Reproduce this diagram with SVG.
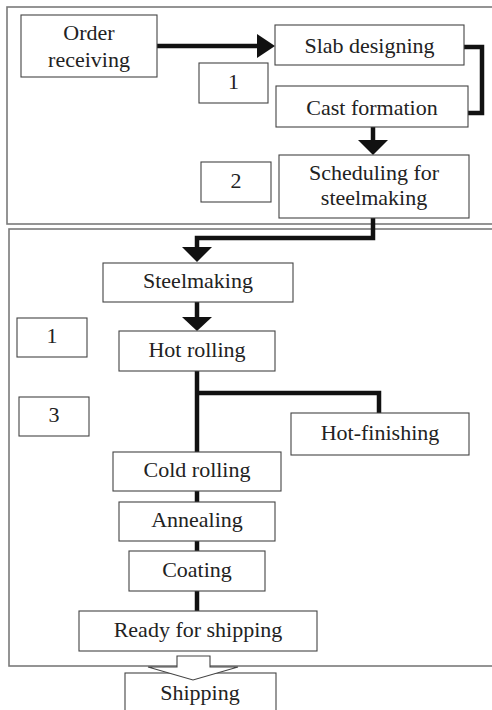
<svg xmlns="http://www.w3.org/2000/svg" width="492" height="710" viewBox="0 0 492 710">
<style>
.frame{fill:none;stroke:#7a7a7a;stroke-width:1.6}
.box{fill:#fff;stroke:#444;stroke-width:1.1}
.t{font-family:"Liberation Serif","Times New Roman",serif;font-size:22px;fill:#222;text-anchor:middle}
.c{fill:none;stroke:#111;stroke-width:4.5}
.ah{fill:#111;stroke:none}
</style>
<rect class="frame" x="7" y="7" width="495" height="217"/>
<rect class="frame" x="9" y="229" width="495" height="437"/>
<g id="connectors">
<line class="c" x1="157" y1="46" x2="259" y2="46"/>
<polygon class="ah" points="257,34 275,46 257,58"/>
<path class="c" d="M464,47 H482 V113 H468"/>
<line class="c" x1="373" y1="127" x2="373" y2="142"/>
<polygon class="ah" points="358,140 388,140 373,155"/>
<path class="c" d="M373,218 V238 H197 V249"/>
<polygon class="ah" points="182,247 212,247 197,262"/>
<line class="c" x1="197" y1="302" x2="197" y2="319"/>
<polygon class="ah" points="182,317 212,317 197,331"/>
<line class="c" x1="197" y1="371" x2="197" y2="452"/>
<path class="c" d="M197,393 H379 V413"/>
<line class="c" x1="197" y1="491" x2="197" y2="502"/>
<line class="c" x1="197" y1="541" x2="197" y2="551"/>
<line class="c" x1="197" y1="591" x2="197" y2="611"/>
</g>
<g id="order"><rect class="box" x="21" y="15" width="136" height="62"/><text class="t" x="89" y="40">Order</text><text class="t" x="89" y="67">receiving</text></g>
<g id="slab"><rect class="box" x="275" y="25" width="189" height="40"/><text class="t" x="369.5" y="53">Slab designing</text></g>
<g id="label1a"><rect class="box" x="199" y="63" width="69" height="40"/><text class="t" x="233.5" y="89">1</text></g>
<g id="cast"><rect class="box" x="276" y="86" width="192" height="41"/><text class="t" x="372" y="115">Cast formation</text></g>
<g id="label2"><rect class="box" x="201" y="162" width="70" height="40"/><text class="t" x="236" y="188">2</text></g>
<g id="scheduling"><rect class="box" x="279" y="155" width="190" height="63"/><text class="t" x="374" y="180">Scheduling for</text><text class="t" x="374" y="205">steelmaking</text></g>
<g id="steelmaking"><rect class="box" x="103" y="263" width="190" height="39"/><text class="t" x="198" y="288">Steelmaking</text></g>
<g id="label1b"><rect class="box" x="17" y="318" width="70" height="39"/><text class="t" x="52" y="343">1</text></g>
<g id="hotrolling"><rect class="box" x="119" y="331" width="156" height="40"/><text class="t" x="197" y="357">Hot rolling</text></g>
<g id="label3"><rect class="box" x="19" y="397" width="70" height="39"/><text class="t" x="54" y="422">3</text></g>
<g id="hotfinishing"><rect class="box" x="291" y="413" width="178" height="42"/><text class="t" x="380" y="440">Hot-finishing</text></g>
<g id="coldrolling"><rect class="box" x="113" y="452" width="168" height="39"/><text class="t" x="197" y="477">Cold rolling</text></g>
<g id="annealing"><rect class="box" x="119" y="502" width="156" height="39"/><text class="t" x="197" y="527">Annealing</text></g>
<g id="coating"><rect class="box" x="129" y="551" width="136" height="40"/><text class="t" x="197" y="577">Coating</text></g>
<g id="ready"><rect class="box" x="79" y="611" width="238" height="40"/><text class="t" x="198" y="637">Ready for shipping</text></g>
<g id="shipping"><rect class="box" x="125" y="673" width="151" height="50"/><text class="t" x="200" y="700">Shipping</text></g>
<g id="ship-arrow"><polygon class="box" points="177,656 210,656 210,667 238,667 193,680 148,667 177,667"/></g>
</svg>
